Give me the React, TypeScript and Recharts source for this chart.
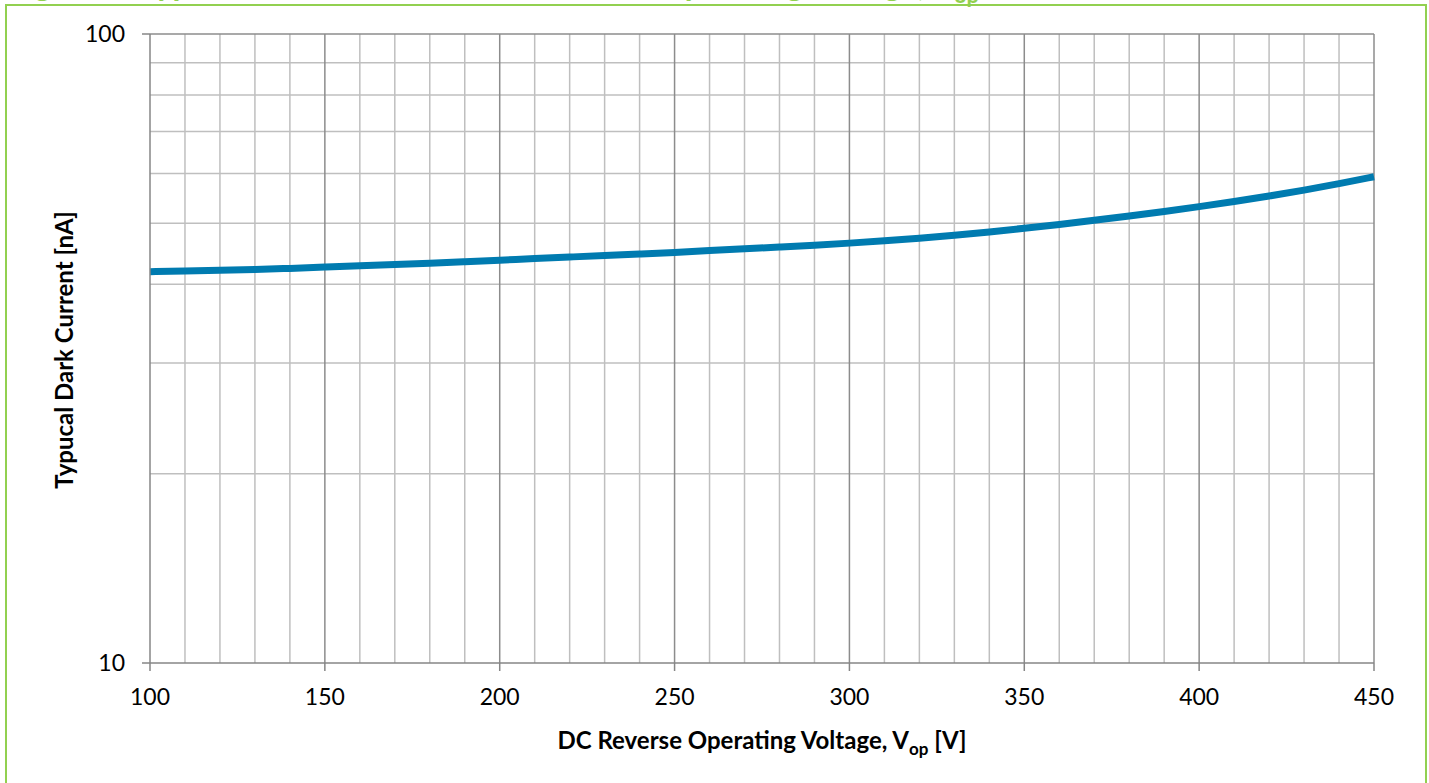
import { LineChart, Line, XAxis, YAxis, ReferenceLine } from 'recharts'

// Reverse voltage [V] and typical dark current [nA]
const voltages = [100, 110, 120, 130, 140, 150, 160, 170, 180, 190, 200, 210, 220, 230, 240, 250, 260, 270, 280, 290, 300, 310, 320, 330, 340, 350, 360, 370, 380, 390, 400, 410, 420, 430, 440, 450]
const darkCurrent = [41.9, 42.0, 42.1, 42.2, 42.4, 42.6, 42.8, 43.0, 43.2, 43.45, 43.7, 43.95, 44.2, 44.45, 44.7, 44.95, 45.25, 45.55, 45.85, 46.15, 46.5, 46.9, 47.35, 47.85, 48.45, 49.1, 49.8, 50.55, 51.35, 52.2, 53.15, 54.15, 55.25, 56.45, 57.8, 59.3]

const xTicks = [100, 150, 200, 250, 300, 350, 400, 450]
const xMinorGrid = [110, 120, 130, 140, 160, 170, 180, 190, 210, 220, 230, 240, 260, 270, 280, 290, 310, 320, 330, 340, 360, 370, 380, 390, 410, 420, 430, 440]
const xMajorGrid = [150, 200, 250, 300, 350, 400, 450]
const yTicks = [10, 100]
const yMinorGrid = [20, 30, 40, 50, 60, 70, 80, 90]

const chartData = voltages.map((v, i) => ({ voltage: v, current: darkCurrent[i] }))

const font = 'Lato, "Open Sans", sans-serif'

export default function App() {
  return (
    <div style={{ position: 'absolute', left: 0, top: 0, width: 1429, height: 783, overflow: 'hidden', background: '#fff', fontFamily: font }}>
      <div style={{ position: 'absolute', left: 8, top: -35, fontSize: 32, lineHeight: '38px', fontWeight: 700, color: '#92D050', whiteSpace: 'nowrap' }}>
        Figure 5: Typical Dark Current vs. DC Reverse Operating Voltage, V<sub style={{ fontSize: 22 }}>op</sub>
      </div>
      <div style={{ position: 'absolute', left: 5, top: 4, width: 1418, height: 800, border: '2px solid #92D050' }} />
      <div style={{ position: 'absolute', left: 0, top: 0 }}>
        <LineChart width={1429} height={783} data={chartData} margin={{ top: 34, right: 55, bottom: 0, left: 60 }}>
          {xMinorGrid.map(v => (
            <ReferenceLine key={'xm' + v} x={v} stroke="#bfbfbf" strokeWidth={1.5} />
          ))}
          {yMinorGrid.map(v => (
            <ReferenceLine key={'ym' + v} y={v} stroke="#bfbfbf" strokeWidth={1.5} />
          ))}
          {xMajorGrid.map(v => (
            <ReferenceLine key={'xM' + v} x={v} stroke="#8c8c8c" strokeWidth={1.5} />
          ))}
          <ReferenceLine y={100} stroke="#8c8c8c" strokeWidth={1.5} />
          <XAxis
            dataKey="voltage"
            type="number"
            domain={[100, 450]}
            ticks={xTicks}
            height={120}
            tickSize={8}
            tickMargin={18}
            axisLine={{ stroke: '#868686', strokeWidth: 1.5 }}
            tickLine={{ stroke: '#868686', strokeWidth: 1.5 }}
            tick={{ fill: '#000', fontSize: 23, fontFamily: font }}
          />
          <YAxis
            scale="log"
            domain={[10, 100]}
            ticks={yTicks}
            allowDataOverflow
            width={90}
            tickSize={8}
            tickMargin={17}
            axisLine={{ stroke: '#868686', strokeWidth: 1.5 }}
            tickLine={{ stroke: '#868686', strokeWidth: 1.5 }}
            tick={{ fill: '#000', fontSize: 23, fontFamily: font }}
          />
          <Line type="basis" dataKey="current" stroke="#007BB0" strokeWidth={7} dot={false} isAnimationActive={false} />
        </LineChart>
      </div>
      <div style={{ position: 'absolute', left: 63, top: 350, transform: 'translate(-50%, -50%) rotate(-90deg)', fontSize: 24, fontWeight: 700, whiteSpace: 'nowrap' }}>
        Typucal Dark Current [nA]
      </div>
      <div style={{ position: 'absolute', left: 762, top: 742, transform: 'translate(-50%, -50%)', fontSize: 24, fontWeight: 700, whiteSpace: 'nowrap' }}>
        DC Reverse Operating Voltage, V<sub style={{ fontSize: 17 }}>op</sub> [V]
      </div>
    </div>
  )
}
